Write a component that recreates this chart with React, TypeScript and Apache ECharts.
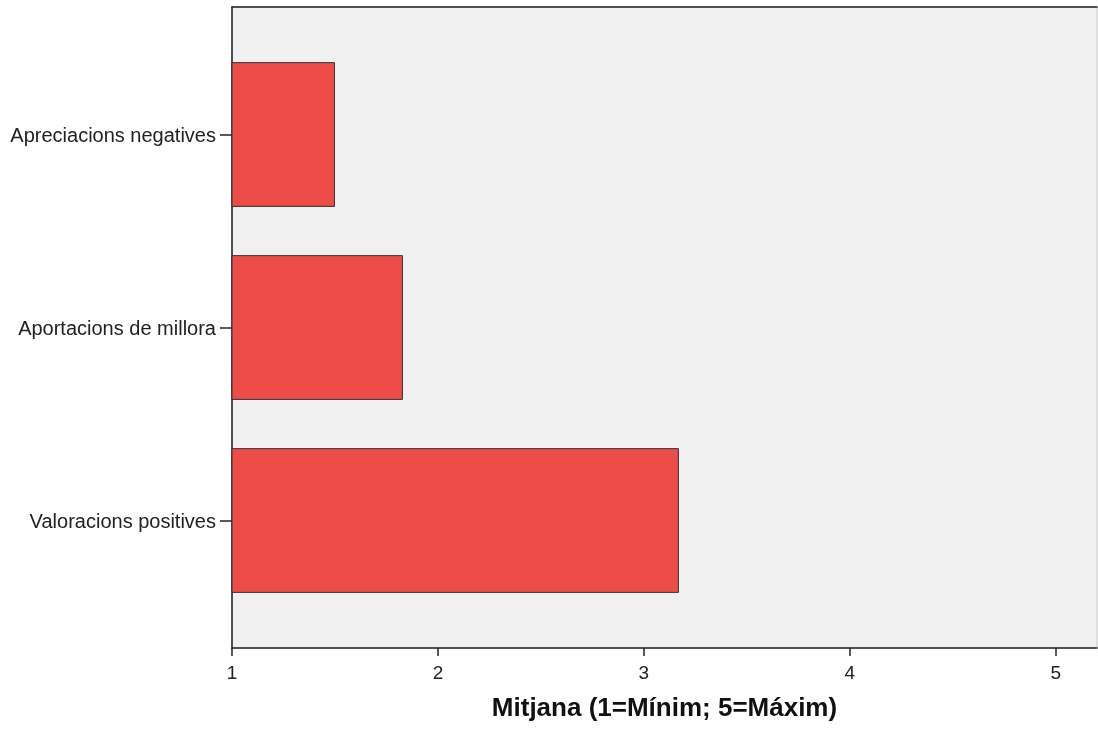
import React, { useEffect, useRef } from "react";
import * as echarts from "echarts";

const categories = ["Apreciacions negatives", "Aportacions de millora", "Valoracions positives"];
const means = [1.5, 1.83, 3.17];
const xTicks = [1, 2, 3, 4, 5];
const xTitle = "Mitjana (1=Mínim; 5=Máxim)";

export default function App() {
  const ref = useRef<HTMLDivElement>(null);
  useEffect(() => {
    if (!ref.current) return;
    const chart = echarts.init(ref.current, null, { renderer: "svg" });
    const font = "'Liberation Sans', Arial, sans-serif";
    chart.setOption({
      animation: false,
      grid: [
        { left: 232, top: 7, width: 865, height: 641, outerBoundsMode: "none", containLabel: false, show: true, backgroundColor: "#F0F0F0", borderColor: "#C8C8C8", borderWidth: 1 },
        { left: 232, top: 38, width: 865, height: 579, outerBoundsMode: "none", containLabel: false },
      ],
      xAxis: [
        {
          gridIndex: 0, type: "value", min: 1, max: 5.2, position: "bottom",
          axisLine: { show: true, lineStyle: { color: "#222", width: 1.5 } },
          axisTick: { show: true, length: 8, customValues: xTicks, lineStyle: { color: "#222", width: 1.5 } },
          axisLabel: { show: true, customValues: xTicks, margin: 15, color: "#222", fontSize: 19, fontFamily: font },
          splitLine: { show: false },
          name: xTitle, nameLocation: "middle", nameGap: 46,
          nameTextStyle: { fontSize: 26, fontWeight: "bold", color: "#111", fontFamily: font },
        },
        {
          gridIndex: 0, type: "value", min: 1, max: 5.2, position: "top",
          axisLine: { show: true, lineStyle: { color: "#222", width: 1.5 } },
          axisTick: { show: false }, axisLabel: { show: false }, splitLine: { show: false },
        },
        {
          gridIndex: 1, type: "value", min: 1, max: 5.2, show: false,
        },
      ],
      yAxis: [
        {
          gridIndex: 0, type: "value", min: 0, max: 1, position: "left",
          axisLine: { show: true, lineStyle: { color: "#222", width: 1.5 } },
          axisTick: { show: false }, axisLabel: { show: false }, splitLine: { show: false },
        },
        {
          gridIndex: 1, type: "category", data: categories, inverse: true,
          axisLine: { show: false },
          axisTick: { show: true, alignWithLabel: true, length: 12, lineStyle: { color: "#222", width: 1.5 } },
          axisLabel: { margin: 16, color: "#222", fontSize: 20, fontFamily: font },
        },
      ],
      series: [
        {
          type: "bar", xAxisIndex: 2, yAxisIndex: 1, data: means,
          barCategoryGap: "25%",
          itemStyle: { color: "#ED4C48", borderColor: "#333", borderWidth: 1 },
        },
      ],
    });
    return () => chart.dispose();
  }, []);
  return <div ref={ref} style={{ position: "fixed", left: 0, top: 0, width: 1098, height: 729 }} />;
}
